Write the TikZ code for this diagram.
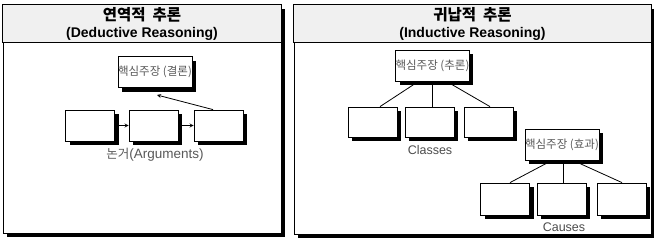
\documentclass[tikz,border=0pt]{standalone}
\usepackage{fontspec}
\setmainfont{Liberation Sans}
\newfontfamily\kr{Noto Sans CJK KR}
\newfontfamily\krhead{Noto Sans CJK KR Medium}
\usetikzlibrary{shadows}
\begin{document}
\begin{tikzpicture}[x=1pt, y=-1pt, >=stealth, line width=0.8pt,
  shade box/.style={drop shadow={shadow xshift=4pt, shadow yshift=-4pt, opacity=1, fill=black}},
  panel/.style={draw, fill=white, inner sep=0pt, shade box},
  claim/.style={draw, fill=white, inner sep=0pt, minimum width=68pt, minimum height=31pt, shade box,
    font=\kr\fontsize{11.5}{13}\selectfont, text=black!65},
  leaf/.style={draw, fill=white, inner sep=0pt, minimum width=49pt, minimum height=31pt, shade box},
  tag/.style={text=black!70, font=\fontsize{12.5}{14}\selectfont},
  title/.style={align=center, font=\bfseries\fontsize{14}{17}\selectfont}]
\useasboundingbox (0,0) rectangle (654,241);

\node[panel, minimum width=278pt, minimum height=228pt] (lp) at (142,119) {};
\node[panel, minimum width=357pt, minimum height=229pt] (rp) at (472.5,119.5) {};
\draw[fill=gray!12] (lp.north west) rectangle (281,42);
\draw[fill=gray!12] (rp.north west) rectangle (651,42);
\node[title] (lt) at (142,23.5) {{\krhead\fontsize{15.5}{17}\selectfont 연역적\ \ 추론}\\(Deductive Reasoning)};
\node[title] (rt) at (472.5,23.5) {{\krhead\fontsize{15.5}{17}\selectfont 귀납적\ \ 추론}\\(Inductive Reasoning)};

\node[claim] (c1) at (155,72) {핵심주장 (결론)};
\node[leaf] (a1) at (90,125.5) {};
\node[leaf] (a2) at (153.5,125.5) {};
\node[leaf] (a3) at (218.5,125.5) {};
\node[tag, text=black!65, font=\fontsize{13.5}{15}\selectfont] (al) at (155,155) {{\kr\fontsize{12.5}{15}\selectfont 논거}(Arguments)};
\coordinate (tip) at (157,95);

\draw[->] (a1) -- (a2);
\draw[->] (a2) -- (a3);
\draw[->] ([xshift=-5.5pt]a3.north) -- (tip);

\node[claim] (r1) at (432.5,65.5) {핵심주장 (추론)};
\node[leaf, minimum height=30pt] (b1) at (372.5,122) {};
\node[leaf, minimum height=30pt] (b2) at (429.5,122) {};
\node[leaf, minimum height=30pt] (b3) at (488.5,122) {};
\node[tag] (bl) at (430,150) {Classes};

\draw ([xshift=-14pt]r1.south) -- ([xshift=7.5pt]b1.north);
\draw (r1.south) -- (r1.south |- b2.north);
\draw ([xshift=14pt]r1.south) -- ([xshift=1.5pt]b3.north);

\node[claim] (r2) at (562,144.5) {핵심주장 (효과)};
\node[leaf, minimum height=32pt] (d1) at (505,199) {};
\node[leaf, minimum height=32pt] (d2) at (561.5,199) {};
\node[leaf, minimum height=32pt] (d3) at (621.5,199) {};
\node[tag] (dl) at (564,227) {Causes};

\draw ([xshift=-10pt]r2.south) -- ([xshift=5pt]d1.north);
\draw ([xshift=1pt]r2.south) -- ([xshift=1pt]r2.south |- d2.north);
\draw ([xshift=11pt]r2.south) -- ([xshift=0.5pt]d3.north);
\end{tikzpicture}
\end{document}
